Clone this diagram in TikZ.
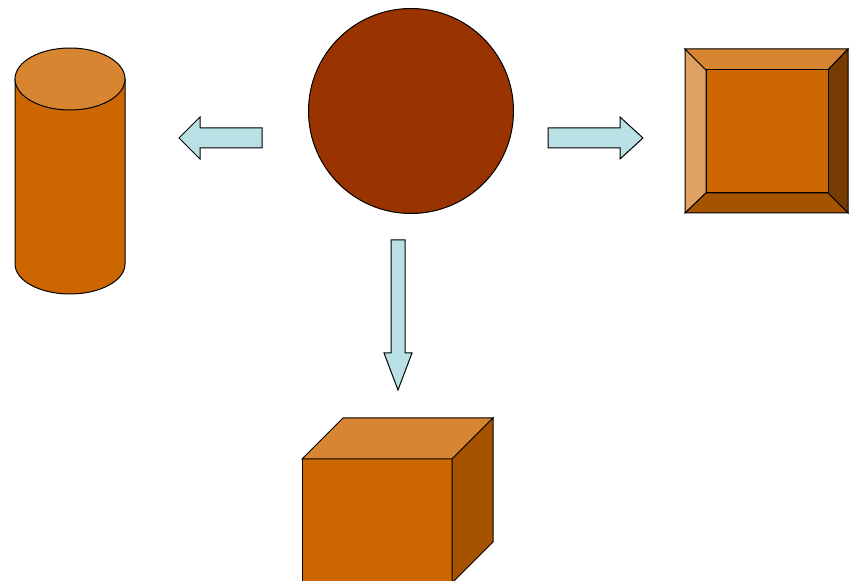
\documentclass[tikz,border=0pt]{standalone}
\definecolor{mainor}{HTML}{CC6600}
\definecolor{lightor}{HTML}{D88532}
\definecolor{paleor}{HTML}{E0A263}
\definecolor{darkor}{HTML}{A65300}
\definecolor{deepor}{HTML}{773A00}
\definecolor{rust}{HTML}{993300}
\definecolor{arrowblue}{HTML}{B9E0E4}
\tikzset{
  shp/.style={draw=black, line width=1pt, line join=miter},
  blockarrow/.style={shp, fill=arrowblue}
}
\begin{document}
\begin{tikzpicture}[x=1pt,y=1pt]
\useasboundingbox (0,0) rectangle (849,581);
\clip (0,0) rectangle (849,581);
% cylinder
\draw[shp, fill=mainor] (15,502) -- (15,317) arc (180:360:55pt and 30pt) -- (125,502) -- cycle;
\draw[shp, fill=lightor] (70,502) ellipse (55pt and 31pt);
% circle
\node[shp, fill=rust, circle, minimum size=205pt, inner sep=0pt] (ball) at (411,470) {};
% arrows
\draw[blockarrow] (179,443) -- (200,464) -- (200,453) -- (262,453) -- (262,433) -- (200,433) -- (200,422) -- cycle;
\draw[blockarrow] (548,453) -- (620,453) -- (620,464) -- (643,443) -- (620,422) -- (620,433) -- (548,433) -- cycle;
\draw[blockarrow] (391,341) -- (405,341) -- (405,228) -- (412,228) -- (398,191) -- (384,228) -- (391,228) -- cycle;
% bevel
\coordinate (oTL) at (685,532); \coordinate (oTR) at (848,532);
\coordinate (oBL) at (685,368); \coordinate (oBR) at (848,368);
\coordinate (iTL) at (706,511); \coordinate (iTR) at (828,511);
\coordinate (iBL) at (706,388); \coordinate (iBR) at (828,388);
\draw[shp, fill=paleor] (oTL) -- (iTL) -- (iBL) -- (oBL) -- cycle;
\draw[shp, fill=lightor] (oTL) -- (oTR) -- (iTR) -- (iTL) -- cycle;
\draw[shp, fill=deepor] (oTR) -- (oBR) -- (iBR) -- (iTR) -- cycle;
\draw[shp, fill=darkor] (oBL) -- (iBL) -- (iBR) -- (oBR) -- cycle;
\draw[shp, fill=mainor] (iTL) rectangle (iBR);
% cube
\draw[shp, fill=mainor] (302,-10) rectangle (452,122);
\draw[shp, fill=lightor] (302,122) -- (343,163) -- (493,163) -- (452,122) -- cycle;
\draw[shp, fill=darkor] (452,122) -- (493,163) -- (493,39) -- (452,-2) -- cycle;
\end{tikzpicture}
\end{document}
